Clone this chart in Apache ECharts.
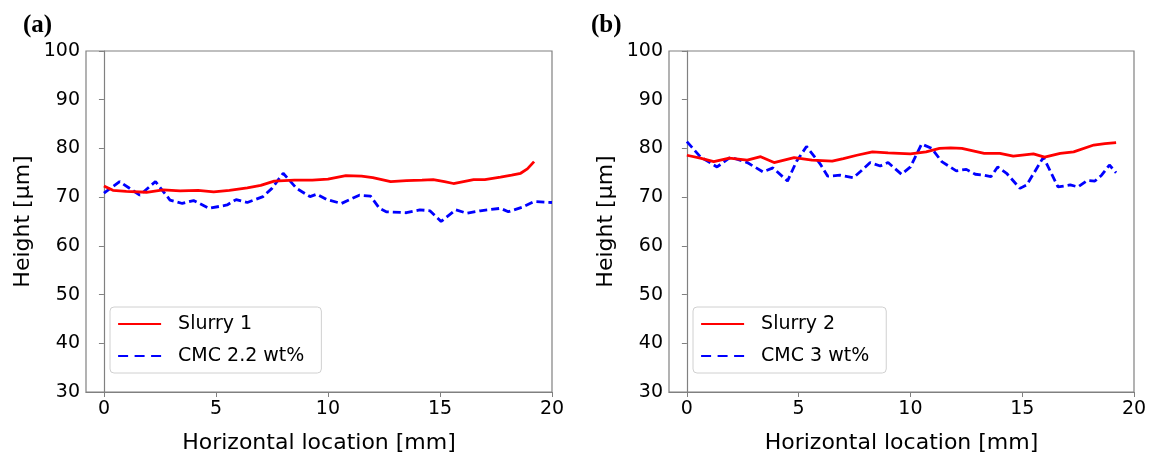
<!DOCTYPE html>
<html lang="en">
<head>
    <meta charset="UTF-8">
    <title>Height profiles</title>
    <script src="https://cdn.jsdelivr.net/npm/echarts@6/dist/echarts.min.js"></script>
    <style>
        html, body { margin: 0; padding: 0; background: #fff; }
        #chart { width: 1151px; height: 459px; }
    </style>
</head>
<body>
    <div id="chart"></div>
    <script>
        // (a) Slurry 1 / CMC 2.2 wt%
        var slurry1X = [0, 0.4, 1.0, 1.9, 2.65, 3.4, 4.2, 4.9, 5.6, 6.4, 7.0, 7.6, 8.5, 9.3, 10.0, 10.8, 11.5, 12.0, 12.8, 13.5, 14.2, 14.7, 15.2, 15.6, 16.5, 17.0, 17.7, 18.2, 18.6, 18.9, 19.2];
        var slurry1Y = [72.3, 71.4, 71.2, 71.0, 71.5, 71.3, 71.4, 71.1, 71.4, 71.9, 72.4, 73.3, 73.5, 73.5, 73.7, 74.4, 74.3, 74.0, 73.2, 73.4, 73.5, 73.6, 73.2, 72.8, 73.6, 73.6, 74.1, 74.5, 74.9, 75.8, 77.3];
        var cmc22X = [0, 0.7, 1.6, 2.3, 2.95, 3.5, 4.0, 4.7, 5.5, 5.9, 6.4, 7.1, 7.5, 8.0, 8.6, 9.2, 9.5, 9.95, 10.6, 11.4, 11.9, 12.3, 12.6, 13.5, 14.1, 14.55, 15.05, 15.7, 16.2, 16.8, 17.7, 18.05, 18.65, 19.2, 20];
        var cmc22Y = [70.8, 73.2, 70.4, 73.2, 69.4, 68.7, 69.3, 67.7, 68.4, 69.5, 68.9, 70.1, 71.8, 74.9, 71.8, 70.1, 70.6, 69.5, 68.7, 70.4, 70.2, 67.7, 67.0, 66.8, 67.4, 67.2, 65.0, 67.4, 66.7, 67.2, 67.7, 67.0, 67.9, 69.1, 68.9];

        // (b) Slurry 2 / CMC 3 wt%
        var slurry2X = [0, 0.6, 1.2, 1.9, 2.7, 3.3, 3.9, 4.8, 5.6, 6.5, 7.0, 7.6, 8.3, 9.0, 10.0, 10.7, 11.3, 11.8, 12.3, 13.3, 14.0, 14.6, 15.5, 16.0, 16.7, 17.3, 18.2, 18.7, 19.2];
        var slurry2Y = [78.6, 78.0, 77.3, 78.0, 77.6, 78.3, 77.1, 78.1, 77.6, 77.4, 77.9, 78.6, 79.3, 79.1, 78.9, 79.3, 80.0, 80.1, 80.0, 79.0, 79.0, 78.4, 78.9, 78.2, 79.0, 79.3, 80.7, 81.0, 81.2];
        var cmc3X = [0, 0.6, 1.35, 1.95, 2.7, 3.4, 3.85, 4.5, 4.9, 5.35, 5.95, 6.3, 6.85, 7.45, 7.75, 8.2, 8.65, 9.0, 9.6, 10.0, 10.5, 10.95, 11.4, 12.05, 12.5, 12.9, 13.3, 13.6, 13.9, 14.3, 14.9, 15.2, 15.95, 16.6, 17.15, 17.5, 17.9, 18.25, 18.55, 18.9, 19.2];
        var cmc3Y = [81.4, 78.3, 76.2, 78.2, 77.1, 75.2, 76.0, 73.3, 77.3, 80.4, 76.9, 74.3, 74.5, 74.0, 75.2, 77.1, 76.4, 77.1, 74.7, 76.2, 80.9, 80.0, 77.3, 75.4, 75.7, 74.7, 74.5, 74.2, 76.2, 74.9, 71.8, 72.5, 78.2, 72.1, 72.5, 72.1, 73.4, 73.3, 74.5, 76.6, 75.0];

        var xTicks = [0, 5, 10, 15, 20];
        var font = 'DejaVu Sans';
        var spine = '#808080';

        function pairs(xs, ys) {
            return xs.map(function (x, i) { return [x, ys[i]]; });
        }

        function xAxisFor(idx) {
            return {
                gridIndex: idx,
                type: 'value',
                min: -0.8,
                max: 20,
                name: 'Horizontal location [mm]',
                nameLocation: 'middle',
                nameGap: 40,
                nameTextStyle: { fontFamily: font, fontSize: 22, color: '#000' },
                axisLine: { show: true, lineStyle: { color: spine, width: 1.2 } },
                axisTick: { show: true, customValues: xTicks, length: 5, lineStyle: { color: spine } },
                axisLabel: { customValues: xTicks, fontFamily: font, fontSize: 19, color: '#000', margin: 8 },
                splitLine: { show: false }
            };
        }

        function yAxisFor(idx) {
            return {
                gridIndex: idx,
                type: 'value',
                min: 30,
                max: 100,
                interval: 10,
                name: 'Height [µm]',
                nameLocation: 'middle',
                nameGap: 52,
                nameTextStyle: { fontFamily: font, fontSize: 22, color: '#000' },
                axisLine: { show: true, lineStyle: { color: spine, width: 1.2 } },
                axisTick: { show: true, length: 5, lineStyle: { color: spine } },
                axisLabel: { fontFamily: font, fontSize: 19, color: '#000', margin: 6 },
                splitLine: { show: false }
            };
        }

        function legendFor(left, solidName, dashName) {
            return {
                left: left,
                top: 307,
                orient: 'vertical',
                data: [
                    { name: solidName, lineStyle: { width: 2.2 } },
                    { name: dashName, lineStyle: { width: 2.2, type: [10, 6.5] } }
                ],
                backgroundColor: '#fff',
                borderColor: '#d0d0d0',
                borderWidth: 1,
                borderRadius: 4,
                padding: [6, 17, 6, 7],
                itemWidth: 43,
                itemHeight: 14,
                itemGap: 10,
                itemStyle: { opacity: 0 },   // hide the marker, keep only the line sample
                textStyle: { fontFamily: font, fontSize: 19, color: '#000', lineHeight: 22, padding: [0, 0, 0, 12] }
            };
        }

        function line(name, idx, data, color, type) {
            return {
                name: name,
                type: 'line',
                xAxisIndex: idx,
                yAxisIndex: idx,
                data: data,
                symbol: 'none',
                lineStyle: { color: color, width: 2.8, type: type },
                itemStyle: { color: color },
                z: type === 'solid' ? 3 : 2
            };
        }

        var chart = echarts.init(document.getElementById('chart'));
        var option = {
            animation: false,
            title: [
                { text: '(a)', left: 18, top: 8, textStyle: { fontFamily: 'Liberation Serif', fontWeight: 'bold', fontSize: 25, color: '#000' } },
                { text: '(b)', left: 586, top: 8, textStyle: { fontFamily: 'Liberation Serif', fontWeight: 'bold', fontSize: 25, color: '#000' } }
            ],
            grid: [
                { left: 86, right: 599, top: 51, bottom: 67, show: true, borderColor: spine, borderWidth: 1.2, backgroundColor: 'transparent' },
                { left: 669, right: 17, top: 51, bottom: 67, show: true, borderColor: spine, borderWidth: 1.2, backgroundColor: 'transparent' }
            ],
            xAxis: [xAxisFor(0), xAxisFor(1)],
            yAxis: [yAxisFor(0), yAxisFor(1)],
            legend: [
                legendFor(110, 'Slurry 1', 'CMC 2.2 wt%'),
                legendFor(693, 'Slurry 2', 'CMC 3 wt%')
            ],
            series: [
                line('Slurry 1', 0, pairs(slurry1X, slurry1Y), '#ff0000', 'solid'),
                line('CMC 2.2 wt%', 0, pairs(cmc22X, cmc22Y), '#0000ff', [8, 4]),
                line('Slurry 2', 1, pairs(slurry2X, slurry2Y), '#ff0000', 'solid'),
                line('CMC 3 wt%', 1, pairs(cmc3X, cmc3Y), '#0000ff', [8, 4])
            ]
        };
        chart.setOption(option);
    </script>
</body>
</html>
